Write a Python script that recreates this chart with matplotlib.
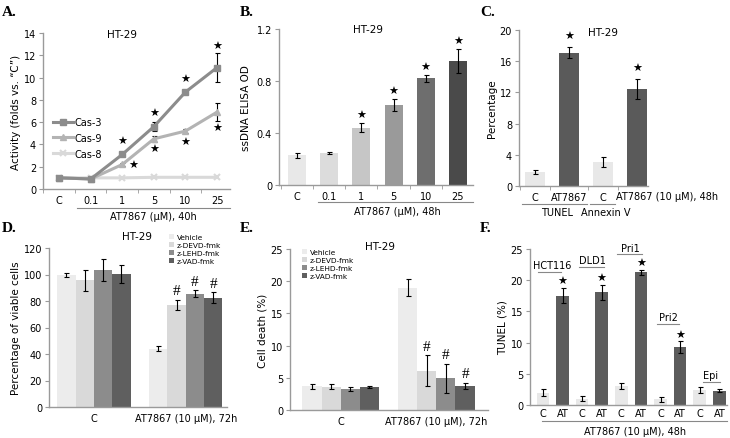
import matplotlib
matplotlib.use("Agg")
import matplotlib.pyplot as plt
import numpy as np
from matplotlib.patches import Patch
from matplotlib.lines import Line2D

# ---------------- data ----------------
a_cats = ["C", "0.1", "1", "5", "10", "25"]
a_cas3 = [1.0, 0.9, 3.1, 5.6, 8.7, 10.9]
a_cas3_err = [0.05, 0.05, 0.15, 0.4, 0.2, 1.3]
a_cas9 = [1.0, 0.9, 2.2, 4.5, 5.2, 6.9]
a_cas9_err = [0.05, 0.05, 0.1, 0.3, 0.15, 0.8]
a_cas8 = [1.0, 1.0, 1.0, 1.05, 1.05, 1.05]

b_cats = ["C", "0.1", "1", "5", "10", "25"]
b_vals = [0.23, 0.245, 0.44, 0.615, 0.82, 0.955]
b_err = [0.02, 0.01, 0.035, 0.045, 0.03, 0.09]

c_cats = ["C", "AT7867", "C", "AT7867 (10 \u03bcM), 48h"]
c_vals = [1.8, 17.1, 3.1, 12.4]
c_err = [0.3, 0.7, 0.6, 1.3]

de_series = ["Vehicle", "z-DEVD-fmk", "z-LEHD-fmk", "z-VAD-fmk"]
de_groups = ["C", "AT7867 (10 \u03bcM), 72h"]
d_vals = [[99.5, 95.5, 103.5, 100.5], [44.0, 77.0, 85.5, 82.5]]
d_err = [[1.5, 8.0, 8.5, 7.0], [2.0, 4.0, 2.5, 4.0]]
e_vals = [[3.7, 3.6, 3.3, 3.5], [19.0, 6.1, 4.9, 3.7]]
e_err = [[0.4, 0.4, 0.3, 0.15], [1.3, 2.4, 2.3, 0.5]]

f_lines = ["HCT116", "DLD1", "Pri1", "Pri2", "Epi"]
f_ticks = ["C", "AT"] * 5
f_vals = [2.0, 17.5, 1.0, 18.1, 3.1, 21.3, 0.9, 9.3, 2.4, 2.3]
f_err = [0.5, 1.2, 0.4, 1.2, 0.5, 0.4, 0.4, 0.9, 0.5, 0.2]
f_label_y = [22.4, 23.2, 25.2, 14.1, 4.8]

# ---------------- style ----------------
W, H = 730, 439
fig = plt.figure(figsize=(W / 100, H / 100), dpi=100)
plt.rcParams['font.family'] = ['DejaVu Sans']
FS = 7
SPC = '#9a9a9a'


def ax_px(l, t, r, b):
    return fig.add_axes([l / W, 1 - b / H, (r - l) / W, (b - t) / H])


def fx(x):
    return x / W


def fy(y):
    return 1 - y / H


def style(ax):
    for s in ['top', 'right']:
        ax.spines[s].set_visible(False)
    for s in ['left', 'bottom']:
        ax.spines[s].set_color(SPC)
        ax.spines[s].set_linewidth(1.0)
    ax.tick_params(axis='both', labelsize=FS, length=3, width=0.8, color=SPC, pad=2)
    ax.tick_params(axis='x', length=0, pad=4)


def panel_label(x, y, s):
    fig.text(fx(x), fy(y), s, fontsize=11, fontweight='bold',
             family='Liberation Serif', va='center', ha='left')


def hline(x0, x1, y, color='#888888'):
    fig.add_artist(Line2D([fx(x0), fx(x1)], [fy(y), fy(y)], color=color, lw=0.8))


def ftext(x, y, s, fs=FS, ha='center'):
    fig.text(fx(x), fy(y), s, fontsize=fs, ha=ha, va='center')


STAR = '\u2605'
ekw = dict(ecolor='black', elinewidth=0.8, capsize=1.8, capthick=0.8)

# ---------------- Panel A ----------------
ax = ax_px(43, 34, 230, 190)
style(ax)
x = np.arange(len(a_cats))
ax.errorbar(x, a_cas8, color='#d9d9d9', lw=2.2, marker='x', ms=4, mew=1.5, zorder=2)
ax.errorbar(x, a_cas9, yerr=a_cas9_err, color='#b3b3b3', lw=2.2, marker='^', ms=5,
            **ekw, zorder=3)
ax.errorbar(x, a_cas3, yerr=a_cas3_err, color='#8c8c8c', lw=2.2, marker='s', ms=5,
            **ekw, zorder=4)
ax.set_xlim(-0.51, 5.41)
ax.set_ylim(0, 14)
ax.set_yticks(range(0, 15, 2))
ax.set_xticks(x)
ax.set_xticklabels(a_cats)
ax.set_xticks(np.arange(-0.5, 5.5, 1), minor=True)
ax.tick_params(axis='x', which='minor', length=3, color=SPC)
ax.set_ylabel('Activity (folds vs. \u201cC\u201d)', fontsize=7.5, labelpad=2)
ax.text(2.0, 13.9, 'HT-29', fontsize=7.5, ha='center', va='center', clip_on=False)
for xi, yy in zip([2, 3, 4, 5], [4.3, 6.8, 9.9, 12.8]):
    ax.text(xi, yy, STAR, fontsize=8, ha='center', va='center')
for xi, yy in zip([2.35, 3, 4, 5], [2.2, 3.6, 4.2, 5.5]):
    ax.text(xi, yy, STAR, fontsize=8, ha='center', va='center')
handles = [Line2D([], [], color='#8c8c8c', lw=2.2, marker='s', ms=5),
           Line2D([], [], color='#b3b3b3', lw=2.2, marker='^', ms=5),
           Line2D([], [], color='#d9d9d9', lw=2.2, marker='x', ms=4, mew=1.5)]
ax.legend(handles, ['Cas-3', 'Cas-9', 'Cas-8'], loc='upper left',
          bbox_to_anchor=(fx(53), fy(118)), bbox_transform=fig.transFigure,
          frameon=False, fontsize=7, handlelength=2.1, handletextpad=0.1,
          labelspacing=0.6, borderpad=0, borderaxespad=0)
hline(77, 230, 209)
ftext(153, 217, 'AT7867 (\u03bcM), 40h')

# ---------------- Panel B ----------------
ax = ax_px(279, 30, 473, 186)
style(ax)
x = np.arange(len(b_cats))
b_cols = ['#e8e8e8', '#dcdcdc', '#c6c6c6', '#9a9a9a', '#6e6e6e', '#4a4a4a']
ax.bar(x, b_vals, width=0.56, color=b_cols, yerr=b_err, error_kw=ekw)
ax.set_xlim(-0.56, 5.47)
ax.set_ylim(0, 1.2)
ax.set_yticks([0, 0.4, 0.8, 1.2])
ax.set_yticklabels(['0', '0.4', '0.8', '1.2'])
ax.set_xticks(x)
ax.set_xticklabels(b_cats)
ax.set_xticks(np.arange(-0.5, 5.5, 1), minor=True)
ax.tick_params(axis='x', which='minor', length=3, color=SPC)
ax.set_ylabel('ssDNA ELISA OD', fontsize=7.5, labelpad=4)
ax.text(2.2, 1.2, 'HT-29', fontsize=7.5, ha='center', va='center', clip_on=False)
for xi in range(2, 6):
    ax.text(xi, b_vals[xi] + b_err[xi] + 0.06, STAR, fontsize=8, ha='center', va='center')
hline(318, 473, 203)
ftext(397, 212, 'AT7867 (\u03bcM), 48h')

# ---------------- Panel C ----------------
ax = ax_px(519, 31, 648, 187)
style(ax)
x = np.arange(len(c_cats))
ax.bar(x, c_vals, width=0.59, color=['#e8e8e8', '#5a5a5a', '#e8e8e8', '#5a5a5a'],
       yerr=c_err, error_kw=ekw)
ax.set_xlim(-0.47, 3.32)
ax.set_ylim(0, 20)
ax.set_yticks(range(0, 21, 4))
ax.set_xticks(x[:3])
ax.set_xticklabels(c_cats[:3])
ax.set_xticks([-0.45, 0.45, 1.55, 2.45], minor=True)
ax.tick_params(axis='x', which='minor', length=3, color=SPC)
ftext(616, 197, c_cats[3], ha='left')
ax.set_ylabel('Percentage', fontsize=7.5, labelpad=2)
ax.text(2.0, 19.8, 'HT-29', fontsize=7.5, ha='center', va='center', clip_on=False)
for xi in [1, 3]:
    ax.text(xi, c_vals[xi] + c_err[xi] + 1.4, STAR, fontsize=8, ha='center', va='center')
hline(522, 587, 205)
hline(590, 615, 205)
ftext(557, 213, 'TUNEL')
ftext(606, 213, 'Annexin V')

# ---------------- Panels D & E ----------------
de_cols = ['#ececec', '#d9d9d9', '#8c8c8c', '#5f5f5f']
offs = np.array([-0.3, -0.1, 0.1, 0.3])


def de_panel(box, vals, errs, ylim, yticks, ylabel, xlim, title_xy, leg_xy, hash_pad):
    ax = ax_px(*box)
    style(ax)
    for g in range(2):
        ax.bar(g + offs, vals[g], width=0.2, color=de_cols, yerr=errs[g], error_kw=ekw)
    ax.set_xlim(*xlim)
    ax.set_ylim(*ylim)
    ax.set_yticks(yticks)
    ax.set_xticks([0, 1])
    ax.set_xticklabels(de_groups)
    ax.set_ylabel(ylabel, fontsize=7.5, labelpad=2)
    for i in [1, 2, 3]:
        ax.text(1 + offs[i], vals[1][i] + errs[1][i] + hash_pad, '#', fontsize=11,
                ha='center', va='center', family='Liberation Serif')
    ftext(title_xy[0], title_xy[1], 'HT-29', fs=7.5)
    hs = [Patch(facecolor=c, edgecolor='none') for c in de_cols]
    ax.legend(hs, de_series, loc='upper left', bbox_to_anchor=(fx(leg_xy[0]), fy(leg_xy[1])),
              bbox_transform=fig.transFigure, frameon=False, fontsize=5.3,
              handlelength=0.7, handleheight=0.7, handletextpad=0.4, labelspacing=0.25,
              borderpad=0, borderaxespad=0)
    return ax


de_panel((49, 249, 227, 408), d_vals, d_err, (0, 120), range(0, 121, 20),
         'Percentage of viable cells', (-0.49, 1.45), (137, 237), (169, 235), 7)
de_panel((290, 250, 488, 411), e_vals, e_err, (0, 25), range(0, 26, 5),
         'Cell death (%)', (-0.53, 1.54), (380, 247), (302, 250), 1.4)

# ---------------- Panel F ----------------
ax = ax_px(530, 250, 727, 406)
style(ax)
x = np.arange(len(f_ticks))
f_cols = ['#e8e8e8', '#5c5c5c'] * 5
ax.bar(x, f_vals, width=0.64, color=f_cols, yerr=f_err, error_kw=ekw)
ax.set_xlim(-0.66, 9.39)
ax.set_ylim(0, 25)
ax.set_yticks(range(0, 26, 5))
ax.set_xticks(x)
ax.set_xticklabels(f_ticks)
ax.tick_params(axis='x', pad=2)
ax.set_ylabel('TUNEL (%)', fontsize=7.5, labelpad=2)
for i in range(4):
    xi = 2 * i + 1
    ax.text(xi, f_vals[xi] + f_err[xi] + 1.1, STAR, fontsize=8, ha='center', va='center')
f_line_x = [(538, 561), (579, 604), (617, 642), (657, 679), (703, 720)]
f_text_x = [552, 592, 630, 668, 711]
for (x0, x1), tx, name, ly in zip(f_line_x, f_text_x, f_lines, f_label_y):
    ypx = 406 - ly * (156 / 25)
    hline(x0, x1, ypx + 6.5)
    ftext(tx, ypx, name, fs=7)
hline(542, 727, 422)
ftext(635, 432, 'AT7867 (10 \u03bcM), 48h')

# ---------------- panel letters ----------------
panel_label(2, 12, 'A.')
panel_label(240, 12, 'B.')
panel_label(480, 12, 'C.')
panel_label(2, 228, 'D.')
panel_label(240, 228, 'E.')
panel_label(480, 228, 'F.')

fig.savefig('out.png', dpi=100)
